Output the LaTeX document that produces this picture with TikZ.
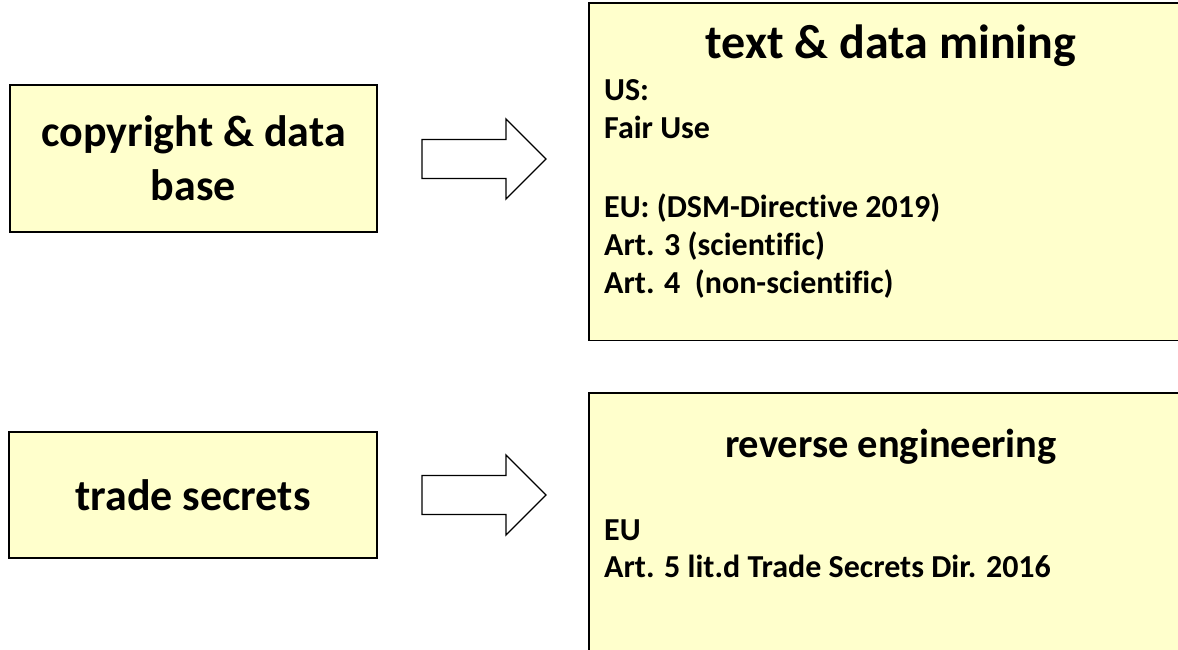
\documentclass[tikz,border=0pt]{standalone}
\usepackage{fontspec}
\setmainfont{Carlito}[Ligatures=NoCommon]
\usetikzlibrary{positioning}

\definecolor{boxyellow}{HTML}{FFFFCC}

\begin{document}
\begin{tikzpicture}[x=1pt, y=-1pt,
    box/.style={draw, line width=1.2pt, fill=boxyellow, inner sep=0pt},
    openbox/.style={fill=boxyellow, inner sep=0pt},
    bigtext/.style={font=\fontsize{44}{54}\selectfont\bfseries, align=center},
    bodytext/.style={font=\fontsize{32}{38}\selectfont\bfseries, inner sep=0pt, anchor=base west},
    blockarrow/.style={draw, line width=1.3pt, fill=white, line join=miter}]
    \path [use as bounding box, clip] (0,0) rectangle (1178,649);

    % left boxes
    \node [box, bigtext, minimum width=367, minimum height=147] (copy) at (193.5,158.5) {copyright \& data\\base};
    \node [box, bigtext, minimum width=368, minimum height=126] (secret) at (193,495) {trade secrets};

    % right boxes, cut off by the page edge
    \node [openbox, anchor=north west, minimum width=640, minimum height=337] (tdm) at (589,3) {};
    \node [openbox, anchor=north west, minimum width=640, minimum height=300] (rev) at (589,393) {};
    \draw [line width=1.2pt] (tdm.north east) -- (tdm.north west) -- (tdm.south west) -- (tdm.south east);
    \draw [line width=1.2pt] (rev.north east) -- (rev.north west) -- (rev.south west) -- (rev.south east);

    \node [font=\fontsize{48}{56}\selectfont\bfseries, anchor=base, inner sep=0pt] (tdmtitle) at (891,58) {text \& data mining};
    \node [font=\fontsize{40.5}{48}\selectfont\bfseries, anchor=base, inner sep=0pt] (revtitle) at (891,457) {reverse engineering};

    \foreach \t/\y [count=\i] in {US:/100, Fair Use/138, EU: (DSM-Directive 2019)/217, Art. 3 (scientific)/255, Art. 4\ \ (non-scientific)/293}
        \node [bodytext] (tdm-\i) at (604,\y) {\t};
    \foreach \t/\y [count=\i] in {EU/540, Art. 5 lit.d Trade Secrets Dir. 2016/577}
        \node [bodytext] (rev-\i) at (604,\y) {\t};

    % block arrows
    \foreach \c in {159,495}
        \draw [blockarrow, shift={(0,\c)}] (422,-19.5) -- (506,-19.5) -- (506,-40) -- (546,0)
            -- (506,40) -- (506,19.5) -- (422,19.5) -- cycle;
\end{tikzpicture}
\end{document}
